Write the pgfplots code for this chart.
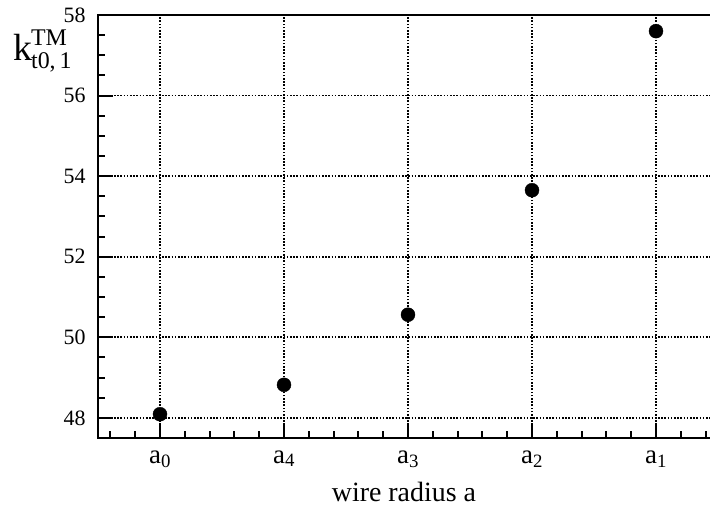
\documentclass[border=0pt]{standalone}
\usepackage{fontspec}
\setmainfont{Liberation Serif}
\usepackage{pgfplots}
\pgfplotsset{compat=1.18}
\begin{document}
\begin{tikzpicture}
\begin{axis}[
  scale only axis, width=620bp, height=423bp,
  xmin=-0.5, xmax=4.5, ymin=47.5, ymax=58,
  xtick={0,1,2,3,4},
  xticklabels={a\textsubscript{0}, a\textsubscript{4}, a\textsubscript{3}, a\textsubscript{2}, a\textsubscript{1}},
  minor xtick={-0.4,-0.2,0.2,0.4,0.6,0.8,1.2,1.4,1.6,1.8,2.2,2.4,2.6,2.8,3.2,3.4,3.6,3.8,4.2,4.4},
  ytick={48,50,52,54,56,58},
  minor ytick={48.5,49,49.5,50.5,51,51.5,52.5,53,53.5,54.5,55,55.5,56.5,57,57.5},
  tick pos=left, tick align=inside,
  major tick length=15bp, minor tick length=7bp,
  axis line style={line width=2.2bp},
  every tick/.style={black, line width=2bp},
  grid=major,
  major grid style={black, line width=1.8bp, dash pattern=on 1.6bp off 1.6bp},
  /pgf/number format/assume math mode=true,
  yticklabel style={font=\fontsize{22}{26}\selectfont, xshift=-9bp},
  xticklabel style={font=\fontsize{27}{32}\selectfont, yshift=-9bp},
  clip=false,
]
\addplot[only marks, mark=*, mark size=7bp, black] coordinates {
  (0,48.09) (1,48.82) (2,50.56) (3,53.65) (4,57.6)
};
\coordinate (sw) at (rel axis cs:0,0);
\coordinate (nw) at (rel axis cs:0,1);
\node[anchor=base, inner sep=0, font=\fontsize{28}{32}\selectfont] at (rel axis cs:0.4935,0) [yshift=-63bp] {wire radius a};
\node[anchor=base west, inner sep=0] at (rel axis cs:0,1) [xshift=-85bp, yshift=-46bp]
  {{\fontsize{38}{40}\selectfont k}{\fontsize{24}{26}\selectfont\hspace{-1bp}\rlap{\raisebox{15bp}{TM}}\raisebox{-8bp}{t0,\,1}}};
\end{axis}
\pgfresetboundingbox
\path[use as bounding box] ([xshift=-98bp,yshift=-74bp]sw) rectangle ([xshift=612bp,yshift=15bp]nw);
\end{tikzpicture}
\end{document}
